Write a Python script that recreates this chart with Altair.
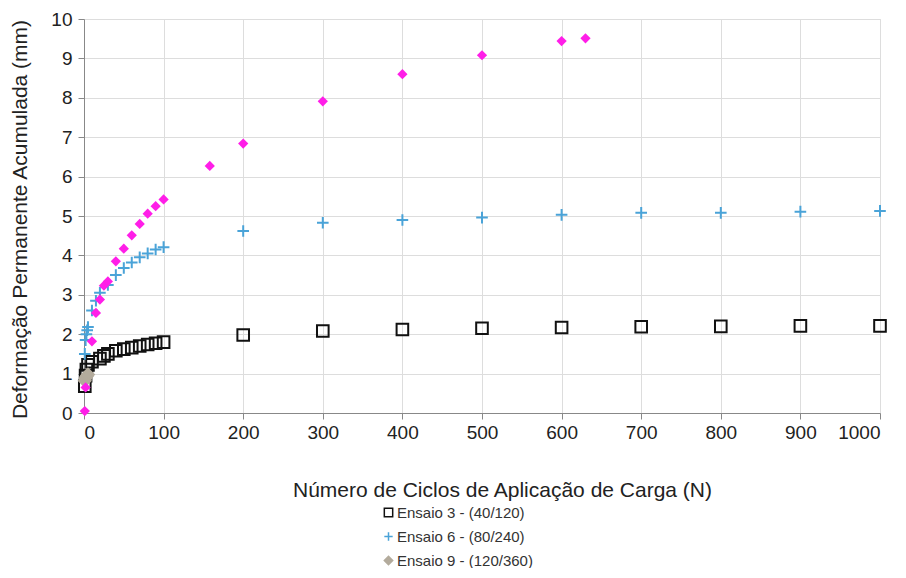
import altair as alt
import pandas as pd

# Ensaio 3 - (40/120)
e3_n = [1, 2, 3, 5, 10, 20, 25, 30, 40, 50, 60, 70, 80, 90, 100, 200, 300, 400, 500, 600, 700, 800, 900, 1000]
e3_y = [0.68, 0.95, 1.10, 1.22, 1.30, 1.38, 1.45, 1.50, 1.58, 1.62, 1.66, 1.70, 1.74, 1.77, 1.80, 1.98, 2.08, 2.12, 2.15, 2.17, 2.19, 2.20, 2.21, 2.21]

# Ensaio 6 - (80/240)
e6_n = [1, 2, 3, 4, 5, 10, 15, 20, 30, 40, 50, 60, 70, 80, 90, 100, 200, 300, 400, 500, 600, 700, 800, 900, 1000]
e6_y = [1.50, 1.85, 2.00, 2.10, 2.18, 2.60, 2.85, 3.05, 3.25, 3.50, 3.68, 3.82, 3.95, 4.05, 4.15, 4.21, 4.62, 4.83, 4.90, 4.96, 5.03, 5.08, 5.08, 5.11, 5.13]

# Ensaio 9 - (120/360)
e9_n = [1, 2, 3, 4, 5]
e9_y = [0.82, 0.88, 0.92, 0.95, 0.98]

# unlabeled magenta series
mg_n = [1, 2, 10, 15, 20, 25, 30, 40, 50, 60, 70, 80, 90, 100, 158, 200, 300, 400, 500, 600, 630]
mg_y = [0.05, 0.65, 1.82, 2.54, 2.88, 3.23, 3.34, 3.85, 4.17, 4.51, 4.80, 5.06, 5.25, 5.42, 6.27, 6.84, 7.91, 8.60, 9.08, 9.44, 9.51]

series_names = ["Ensaio 3 - (40/120)", "Ensaio 6 - (80/240)", "Ensaio 9 - (120/360)"]

rows = []
for name, ns, ys in zip(series_names, [e3_n, e6_n, e9_n], [e3_y, e6_y, e9_y]):
    for n, y in zip(ns, ys):
        rows.append({"N": n, "D": y, "serie": name})
df = pd.DataFrame(rows)
df_mg = pd.DataFrame({"N": mg_n, "D": mg_y})

FONT = "Liberation Sans"
PLUS = "M-1,0H1M0,-1V1"

x_scale = alt.Scale(domain=[0, 1000], nice=False)
y_scale = alt.Scale(domain=[0, 10], nice=False)

x_axis = alt.Axis(
    values=list(range(0, 1001, 100)), format="d", title="Número de Ciclos de Aplicação de Carga (N)",
    titleX=418, titleY=77, titleBaseline="middle", titleAlign="center", titleAnchor=None,
    labelPadding=4, tickSize=6, titleFontWeight="normal", titleFontSize=21,
    labelFontSize=19, labelFont=FONT, titleFont=FONT, labelColor="#222222", titleColor="#222222",
)
y_axis = alt.Axis(
    values=list(range(0, 11)), format="d", title="Deformação Permanente Acumulada (mm)",
    titleX=-64, titleY=200, titleAngle=-90, titleBaseline="middle", titleAlign="center",
    labelPadding=6, tickSize=6, titleFontWeight="normal", titleFontSize=21,
    labelFontSize=19, labelFont=FONT, titleFont=FONT, labelColor="#222222", titleColor="#222222",
)

leg = dict(title=None, orient="none", legendX=297, legendY=486,
           labelFontSize=15, labelFont=FONT, labelColor="#333333",
           symbolSize=70, symbolStrokeWidth=1.5, rowPadding=8, labelOffset=1,
           padding=0)

mg_layer = alt.Chart(df_mg).mark_point(
    shape="diamond", filled=True, color="#ff1ee8", size=105, opacity=1
).encode(
    x=alt.X("N:Q", scale=x_scale, axis=x_axis),
    y=alt.Y("D:Q", scale=y_scale, axis=y_axis),
)

main_layer = alt.Chart(df).mark_point(size=135, strokeWidth=2, opacity=1).encode(
    x=alt.X("N:Q", scale=x_scale, axis=x_axis),
    y=alt.Y("D:Q", scale=y_scale, axis=y_axis),
    color=alt.Color("serie:N", scale=alt.Scale(domain=series_names, range=["#111111", "#4aa3d8", "#b3ab9c"]),
                    legend=alt.Legend(**leg)),
    shape=alt.Shape("serie:N", scale=alt.Scale(domain=series_names, range=["square", PLUS, "diamond"]),
                    legend=alt.Legend(**leg)),
    fill=alt.Fill("serie:N", scale=alt.Scale(domain=series_names, range=["transparent", "transparent", "#b3ab9c"]),
                  legend=alt.Legend(**leg)),
)

chart = alt.layer(main_layer, mg_layer).properties(
    width=796, height=394,
    autosize=alt.AutoSizeParams(type="none"),
    padding={"left": 76, "top": 11, "right": 10, "bottom": 155},
).configure_view(
    stroke="#9a9a9a", strokeWidth=2
).configure_axis(
    gridColor="#dcdcdc", gridWidth=1, domainColor="#555555", domainWidth=2,
    tickColor="#555555", tickWidth=1.5,
).configure(background="white")

chart.save("out.html", embed_options={"renderer": "svg", "actions": False})
